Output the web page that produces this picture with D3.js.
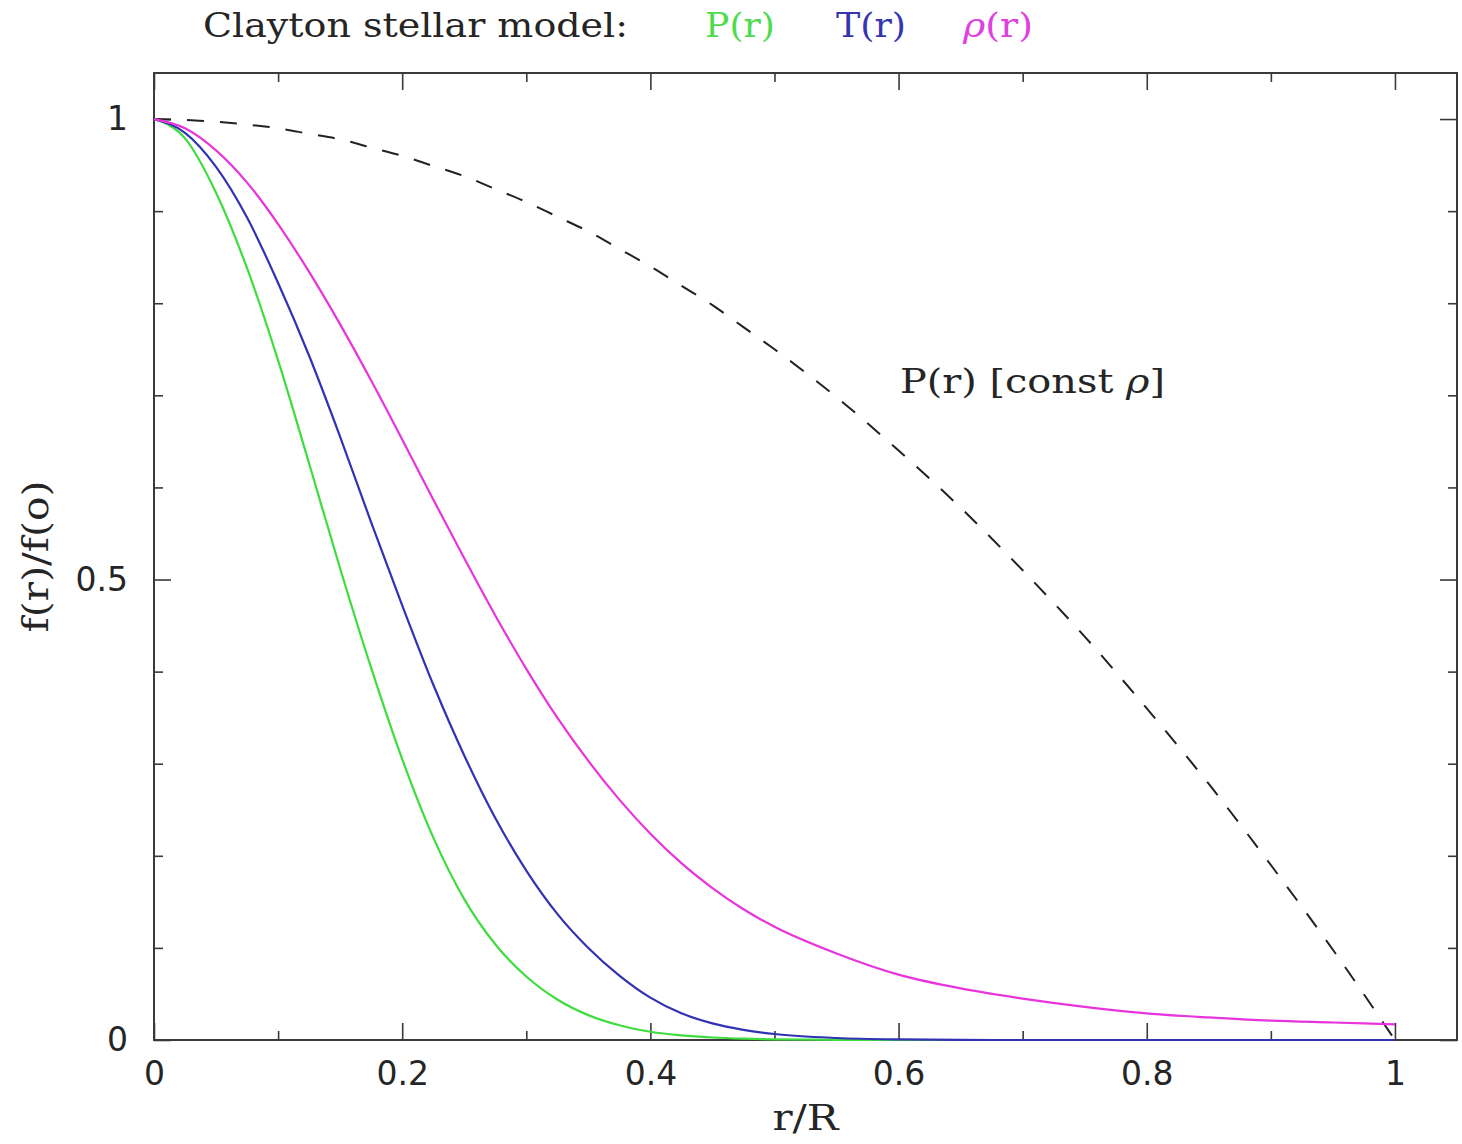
<!DOCTYPE html>
<html>
<head>
<meta charset="utf-8">
<script src="https://cdn.jsdelivr.net/npm/d3@7"></script>
<style>
  html, body { margin: 0; padding: 0; background: #fff; }
  svg { display: block; }
</style>
</head>
<body>
<svg id="chart" width="1462" height="1144"></svg>
<script>
// ---- data ----
const rValues = [0, 0.025, 0.05, 0.075, 0.1, 0.125, 0.15, 0.175, 0.2, 0.225, 0.25, 0.275, 0.3, 0.325, 0.35, 0.375, 0.4, 0.425, 0.45, 0.475, 0.5,
                 0.55, 0.6, 0.65, 0.7, 0.75, 0.8, 0.85, 0.9, 0.95, 1.0];
const pressure = [1, 0.979, 0.92, 0.838, 0.738, 0.626, 0.512, 0.404, 0.305, 0.22, 0.153, 0.104, 0.069, 0.044, 0.027, 0.016, 0.009, 0.005, 0.0027, 0.0014, 0.0007,
                  0.0002, 0, 0, 0, 0, 0, 0, 0, 0, 0];
const temperature = [1, 0.985, 0.948, 0.893, 0.822, 0.743, 0.655, 0.562, 0.472, 0.386, 0.309, 0.241, 0.184, 0.137, 0.1, 0.07, 0.046, 0.029, 0.018, 0.011, 0.0065,
                     0.0022, 0.0006, 0.0001, 0, 0, 0, 0, 0, 0, 0];
const density = [1, 0.99, 0.966, 0.931, 0.886, 0.834, 0.777, 0.716, 0.652, 0.587, 0.523, 0.461, 0.403, 0.35, 0.303, 0.261, 0.224, 0.192, 0.165, 0.142, 0.123,
                 0.094, 0.071, 0.056, 0.045, 0.036, 0.029, 0.0245, 0.021, 0.019, 0.017];
const pressureConstRho = [1, 0.999, 0.997, 0.994, 0.99, 0.984, 0.978, 0.969, 0.96, 0.949, 0.938, 0.924, 0.91, 0.894, 0.878, 0.859, 0.84, 0.819, 0.798, 0.774, 0.75,
                          0.698, 0.64, 0.578, 0.51, 0.438, 0.36, 0.278, 0.19, 0.098, 0];
const xMajorTicks = [0, 0.2, 0.4, 0.6, 0.8, 1];
const xTickLabels = ["0", "0.2", "0.4", "0.6", "0.8", "1"];
const xMinorTicks = [0.1, 0.3, 0.5, 0.7, 0.9];
const yMajorTicks = [0, 0.5, 1];
const yTickLabels = ["0", "0.5", "1"];
const yMinorTicks = [0.1, 0.2, 0.3, 0.4, 0.6, 0.7, 0.8, 0.9];
const seriesNames = ["P", "T", "ρ"];

// ---- layout ----
const svg = d3.select("#chart");
const pLeft = 154, pRight = 1457, pTop = 73, pBottom = 1040;
const x = d3.scaleLinear().domain([0, 1.05]).range([pLeft, pRight]);
const y = d3.scaleLinear().domain([0, 1.05]).range([pBottom, pTop]);

const axisColor = "#3a3a3a";
const serif = "'DejaVu Serif', serif";
const sans = "'DejaVu Sans', sans-serif";
const textColor = "#252525";
const majorLen = 17, minorLen = 9;

function styleAxis(g) {
  g.select(".domain").remove();
  g.selectAll(".tick line").attr("stroke", axisColor).attr("stroke-width", 1.6);
  g.selectAll(".tick text").attr("fill", textColor).attr("font-family", sans).attr("font-size", 33);
}

// bottom
svg.append("g").attr("transform", `translate(0,${pBottom})`)
  .call(d3.axisBottom(x).tickValues(xMajorTicks).tickSize(-majorLen).tickPadding(22)
    .tickFormat((d, i) => xTickLabels[i])).call(styleAxis);
svg.append("g").attr("transform", `translate(0,${pBottom})`)
  .call(d3.axisBottom(x).tickValues(xMinorTicks).tickSize(-minorLen).tickFormat("")).call(styleAxis);
// top
svg.append("g").attr("transform", `translate(0,${pTop})`)
  .call(d3.axisTop(x).tickValues(xMajorTicks).tickSize(-majorLen).tickFormat("")).call(styleAxis);
svg.append("g").attr("transform", `translate(0,${pTop})`)
  .call(d3.axisTop(x).tickValues(xMinorTicks).tickSize(-minorLen).tickFormat("")).call(styleAxis);
// left
svg.append("g").attr("transform", `translate(${pLeft},0)`)
  .call(d3.axisLeft(y).tickValues(yMajorTicks).tickSize(-majorLen).tickPadding(26)
    .tickFormat((d, i) => yTickLabels[i])).call(styleAxis);
svg.append("g").attr("transform", `translate(${pLeft},0)`)
  .call(d3.axisLeft(y).tickValues(yMinorTicks).tickSize(-minorLen).tickFormat("")).call(styleAxis);
// right
svg.append("g").attr("transform", `translate(${pRight},0)`)
  .call(d3.axisRight(y).tickValues(yMajorTicks).tickSize(-majorLen).tickFormat("")).call(styleAxis);
svg.append("g").attr("transform", `translate(${pRight},0)`)
  .call(d3.axisRight(y).tickValues(yMinorTicks).tickSize(-minorLen).tickFormat("")).call(styleAxis);

// frame
svg.append("rect").attr("x", pLeft).attr("y", pTop).attr("width", pRight - pLeft).attr("height", pBottom - pTop)
  .attr("fill", "none").attr("stroke", axisColor).attr("stroke-width", 2);

// ---- curves ----
const line = (vals) => d3.line().x((d, i) => x(rValues[i])).y(d => y(d)).curve(d3.curveMonotoneX)(vals);

svg.append("path").attr("d", line(pressureConstRho)).attr("fill", "none")
  .attr("stroke", "#222").attr("stroke-width", 2).attr("stroke-dasharray", "17,16");
const curves = [
  {vals: pressure, color: "#3fdc3f"},
  {vals: temperature, color: "#3232b4"},
  {vals: density, color: "#e834dc"}
];
curves.forEach(c => {
  svg.append("path").attr("d", line(c.vals)).attr("fill", "none")
    .attr("stroke", c.color).attr("stroke-width", 2.2);
});

// ---- texts ----
svg.append("text").attr("x", 203).attr("y", 37).attr("font-family", serif).attr("font-size", 33)
  .attr("fill", textColor).attr("textLength", 425).attr("lengthAdjust", "spacingAndGlyphs")
  .text("Clayton stellar model:");
const legendX = [705, 836, 963];
const legendColors = ["#4ddc4d", "#3535b0", "#e040e0"];
seriesNames.forEach((s, i) => {
  const t = svg.append("text").attr("x", legendX[i]).attr("y", 37).attr("font-family", serif).attr("font-size", 33)
    .attr("fill", legendColors[i]).attr("textLength", 70).attr("lengthAdjust", "spacingAndGlyphs");
  t.append("tspan").attr("font-style", s === "ρ" ? "italic" : "normal").text(s);
  t.append("tspan").text("(r)");
});

const lab = svg.append("text").attr("x", 900).attr("y", 393).attr("font-family", serif).attr("font-size", 33)
  .attr("fill", textColor).attr("textLength", 265).attr("lengthAdjust", "spacingAndGlyphs");
lab.append("tspan").text("P(r) [const ");
lab.append("tspan").attr("font-style", "italic").text("ρ");
lab.append("tspan").text("]");

svg.append("text").attr("x", (pLeft + pRight) / 2 - 33).attr("y", 1130)
  .attr("font-family", serif).attr("font-size", 35).attr("fill", textColor)
  .attr("textLength", 66).attr("lengthAdjust", "spacingAndGlyphs").text("r/R");

svg.append("text").attr("transform", `translate(48,${(pTop + pBottom) / 2 + 76}) rotate(-90)`)
  .attr("font-family", serif).attr("font-size", 35).attr("fill", textColor)
  .attr("textLength", 152).attr("lengthAdjust", "spacingAndGlyphs")
  .text("f(r)/f(o)");
</script>
</body>
</html>
